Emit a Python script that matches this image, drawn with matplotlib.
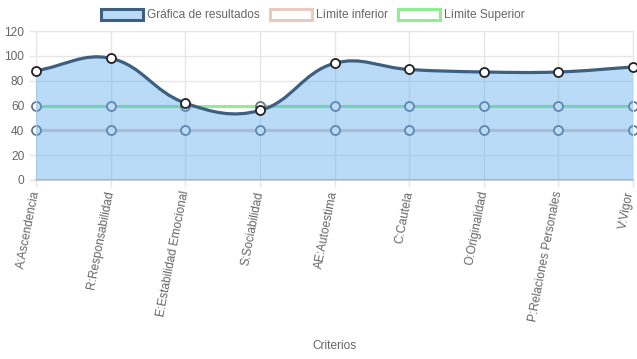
import numpy as np
import matplotlib
matplotlib.use('Agg')
import matplotlib.pyplot as plt
import matplotlib.transforms as mtransforms
from matplotlib.path import Path
from matplotlib.patches import PathPatch, Patch

plt.rcParams['font.family'] = ['Liberation Sans', 'DejaVu Sans']

# datos
criterios = ['A:Ascendencia', 'R:Responsabilidad', 'E:Estabilidad Emocional',
             'S:Sociabilidad', 'AE:Autoestima', 'C:Cautela', 'O:Originalidad',
             'P:Relaciones Personales', 'V:Vigor']
resultados = [88, 98, 62, 56, 94, 89, 87, 87, 91]
limite_inferior = [40, 40, 40, 40, 40, 40, 40, 40, 40]
limite_superior = [60, 60, 60, 60, 60, 60, 60, 60, 60]

COL_RES = '#3d5f80'
COL_FILL = (80 / 255, 165 / 255, 235 / 255, 0.4)
COL_INF = '#e8cbbf'
COL_SUP = '#90ee90'
COL_GRID = '#e6e6e6'
COL_TXT = '#666666'
FS = 8.6


def spline_path(xs, ys, trans, t=0.4):
    # curva tipo Chart.js (tension 0.4), calculada en pixeles
    pts = trans.transform(np.column_stack([xs, ys]))
    n = len(pts)
    cps = []
    for i in range(n):
        prev = pts[i - 1] if i > 0 else pts[i]
        nxt = pts[i + 1] if i < n - 1 else pts[i]
        d01 = np.hypot(*(pts[i] - prev))
        d12 = np.hypot(*(nxt - pts[i]))
        tot = d01 + d12
        s01 = d01 / tot if tot else 0
        s12 = d12 / tot if tot else 0
        cps.append((pts[i] - t * s01 * (nxt - prev), pts[i] + t * s12 * (nxt - prev)))
    verts = [pts[0]]
    codes = [Path.MOVETO]
    for i in range(1, n):
        verts += [cps[i - 1][1], cps[i][0], pts[i]]
        codes += [Path.CURVE4] * 3
    verts = trans.inverted().transform(np.array(verts))
    return verts, codes


fig = plt.figure(figsize=(6.37, 3.59), dpi=100)
ax = fig.add_axes([36 / 637, 1 - 180 / 359, (633 - 36) / 637, (180 - 31) / 359])
x = np.arange(len(criterios))
ax.set_xlim(0, len(criterios) - 1)
ax.set_ylim(0, 120)
ax.set_yticks(range(0, 121, 20))
ax.set_xticks(x)
ax.set_xticklabels(criterios, rotation=79, ha='right', va='center',
                   rotation_mode='anchor')
ax.grid(True, color=COL_GRID, linewidth=1)
ax.set_axisbelow(True)
ax.tick_params(axis='both', colors=COL_GRID, labelcolor=COL_TXT, labelsize=FS,
               length=5, width=1)
ax.tick_params(axis='x', pad=3)
for s in ax.spines.values():
    s.set_color(COL_GRID)
ax.spines['bottom'].set_color('#cccccc')
ax.spines['bottom'].set_linewidth(1.5)

# ultima etiqueta un poco a la izquierda para que no se corte
last = ax.get_xticklabels()[-1]
last.set_transform(last.get_transform() +
                   mtransforms.ScaledTranslation(-3 / 100, 0, fig.dpi_scale_trans))

# limites (debajo del relleno)
ax.plot(x, limite_inferior, color=COL_INF, lw=2.2, zorder=2)
ax.plot(x, limite_superior, color=COL_SUP, lw=2.2, zorder=2)
for vals in (limite_inferior, limite_superior):
    ax.plot(x, vals, 'o', ms=6.5, mfc='white', mec='#66778a', mew=1.3,
            zorder=2.5, clip_on=False)

# resultados
verts, codes = spline_path(x, resultados, ax.transData)
fill_verts = np.vstack([verts, [[x[-1], 0], [x[0], 0], [x[0], 0]]])
fill_codes = codes + [Path.LINETO, Path.LINETO, Path.CLOSEPOLY]
ax.add_patch(PathPatch(Path(fill_verts, fill_codes), facecolor=COL_FILL,
                       edgecolor='none', zorder=3))
ax.add_patch(PathPatch(Path(verts, codes), facecolor='none', edgecolor=COL_RES,
                       lw=2.3, zorder=4, clip_on=False))
ax.plot(x, resultados, 'o', ms=6.5, mfc='white', mec='#222222', mew=1.3,
        zorder=5, clip_on=False)

fig.text(334.5 / 637, 1 - 346 / 359, 'Criterios', ha='center', va='center',
         color=COL_TXT, fontsize=FS)

handles = [
    Patch(facecolor='#b9dbf7', edgecolor=COL_RES, lw=2.2),
    Patch(facecolor='white', edgecolor=COL_INF, lw=2.2),
    Patch(facecolor='white', edgecolor=COL_SUP, lw=2.2),
]
fig.legend(handles, ['Gráfica de resultados', 'Límite inferior', 'Límite Superior'],
           loc='center', bbox_to_anchor=(313 / 637, 1 - 15 / 359), ncol=3, frameon=False,
           fontsize=FS, labelcolor=COL_TXT, handlelength=3.5, handleheight=1.05,
           handletextpad=0.4, columnspacing=0.8, borderpad=0)

fig.savefig('out.png', dpi=100)
